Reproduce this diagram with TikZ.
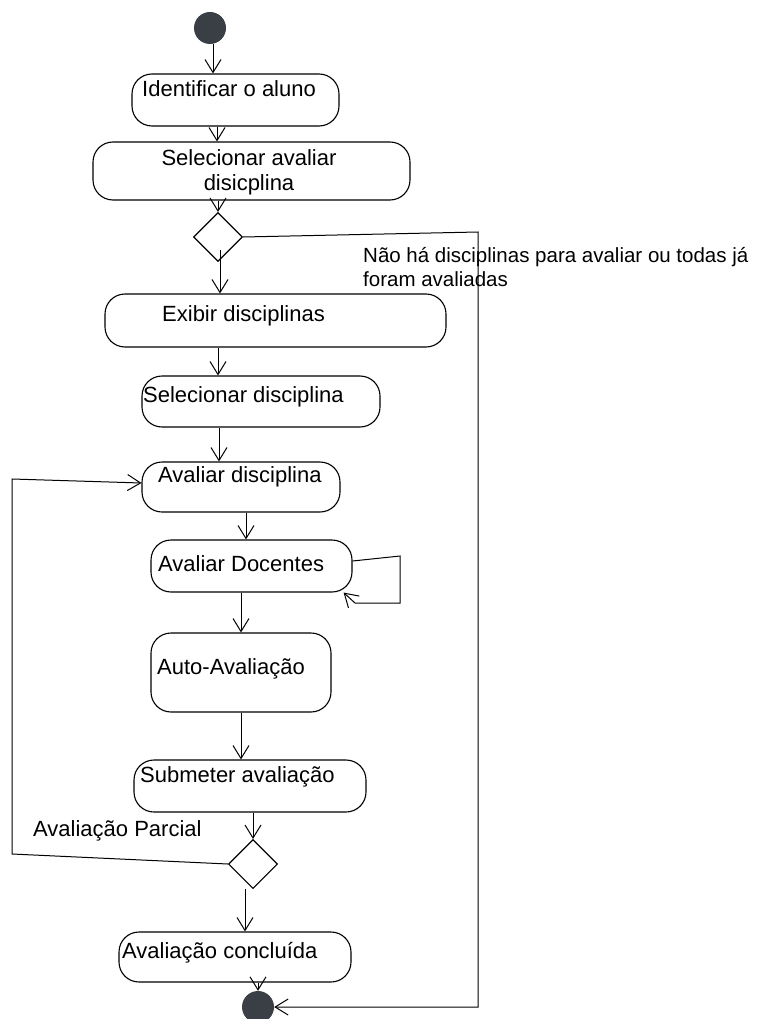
\documentclass[tikz,border=0pt]{standalone}
\usepackage{fontspec}
\setmainfont{Liberation Sans}
\usetikzlibrary{shapes.geometric,arrows.meta,calc}
\definecolor{dotc}{RGB}{58,63,70}
\begin{document}
\begin{tikzpicture}[x=1pt,y=-1pt,
  act/.style={draw, line width=1.1pt, rounded corners=20pt, inner sep=0pt},
  dec/.style={draw, diamond, aspect=1, line width=1.1pt, inner sep=0pt, minimum size=49pt},
  txt/.style={inner sep=0pt, font=\fontsize{22}{25}\selectfont},
  small/.style={inner sep=0pt, font=\fontsize{20.5}{24}\selectfont},
  flow/.style={line width=1pt, -{Straight Barb[length=13pt,width=16pt,line width=1pt]}},
  blob/.style={circle, fill=dotc, inner sep=0pt, minimum size=32pt}]
\useasboundingbox (0,0) rectangle (778,1019);
% nodes
\node[blob] (start) at (210,28) {};
\node[act, minimum width=207pt, minimum height=52pt] (id) at (235.5,100) {};
\node[txt, anchor=west] (idt) at (142,89) {Identificar o aluno};
\node[act, minimum width=317pt, minimum height=58pt] (sel) at (251.5,171) {};
\node[txt, align=center] (selt) at (249,172) {Selecionar avaliar\\disicplina};
\node[dec] (d1) at (218,237) {};
\node[small, anchor=north west, align=left] (nao) at (363,247) {N\~ao h\'a disciplinas para avaliar ou todas j\'a\\foram avaliadas};
\node[act, minimum width=341pt, minimum height=53pt] (exib) at (275.5,320.5) {};
\node[txt, anchor=west] (exibt) at (162,316) {Exibir disciplinas};
\node[act, minimum width=238pt, minimum height=51pt] (seld) at (261,401.5) {};
\node[txt, anchor=west] (seldt) at (143,397) {Selecionar disciplina};
\node[act, minimum width=198pt, minimum height=50pt] (avd) at (241,487) {};
\node[txt, anchor=west] (avdt) at (158,477) {Avaliar disciplina};
\node[act, minimum width=201pt, minimum height=52pt] (avdoc) at (251.5,566) {};
\node[txt, anchor=west] (avdoct) at (158,564) {Avaliar Docentes};
\node[act, minimum width=180pt, minimum height=79pt] (auto) at (241,672.5) {};
\node[txt, anchor=west] (autot) at (157,669) {Auto-Avalia\c{c}\~ao};
\node[act, minimum width=232pt, minimum height=52pt] (sub) at (250,786) {};
\node[txt, anchor=west] (subt) at (140,777) {Submeter avalia\c{c}\~ao};
\node[dec] (d2) at (253,864) {};
\node[txt, anchor=west] (parc) at (33,831) {Avalia\c{c}\~ao Parcial};
\node[act, minimum width=232pt, minimum height=50pt] (conc) at (235,957) {};
\node[txt, anchor=west] (conct) at (122,953) {Avalia\c{c}\~ao conclu\'ida};
\node[blob] (end) at (258,1007) {};
% helper coordinates
\coordinate (c1) at (478,232);
\coordinate (l1) at (12,854);
\coordinate (l2) at (12,479);
\coordinate (s1) at (400,556);
\coordinate (s2) at (400,603);
\coordinate (s3) at (355,603);
% connectors
\draw[flow] (start.south -| 213,0) -- (id.north -| 213,0);
\draw[flow] (id.south -| 217,0) -- (sel.north -| 217,0);
\draw[flow] (sel.south -| d1.north) -- (d1.north);
\draw[flow] (d1.east) -- (c1) -- (c1 |- end.east) -- (end.east);
\draw[flow] ($(d1.center)+(2,13)$) -- (exib.north -| 220,0);
\draw[flow] (exib.south -| 218,0) -- (seld.north -| 218,0);
\draw[flow] (seld.south -| 219,0) -- (avd.north -| 219,0);
\draw[flow] (avd.south -| 246,0) -- (avdoc.north -| 246,0);
\draw[flow] ($(avdoc.east)+(0,-5)$) -- (s1) -- (s2) -- (s3) -- ($(avdoc.south east)+(-9,0)$);
\draw[flow] (avdoc.south -| 241,0) -- (auto.north -| 241,0);
\draw[flow] (auto.south -| 241,0) -- (sub.north -| 241,0);
\draw[flow] (sub.south -| d2.north) -- (d2.north);
\draw[flow] (d2.west) -- (l1) -- (l2) -- ($(avd.west)+(0,-4)$);
\draw[flow] (d2.south -| 245,0) -- (conc.north -| 245,0);
\draw[flow] (conc.south -| end.north) -- (end.north);
\end{tikzpicture}
\end{document}
